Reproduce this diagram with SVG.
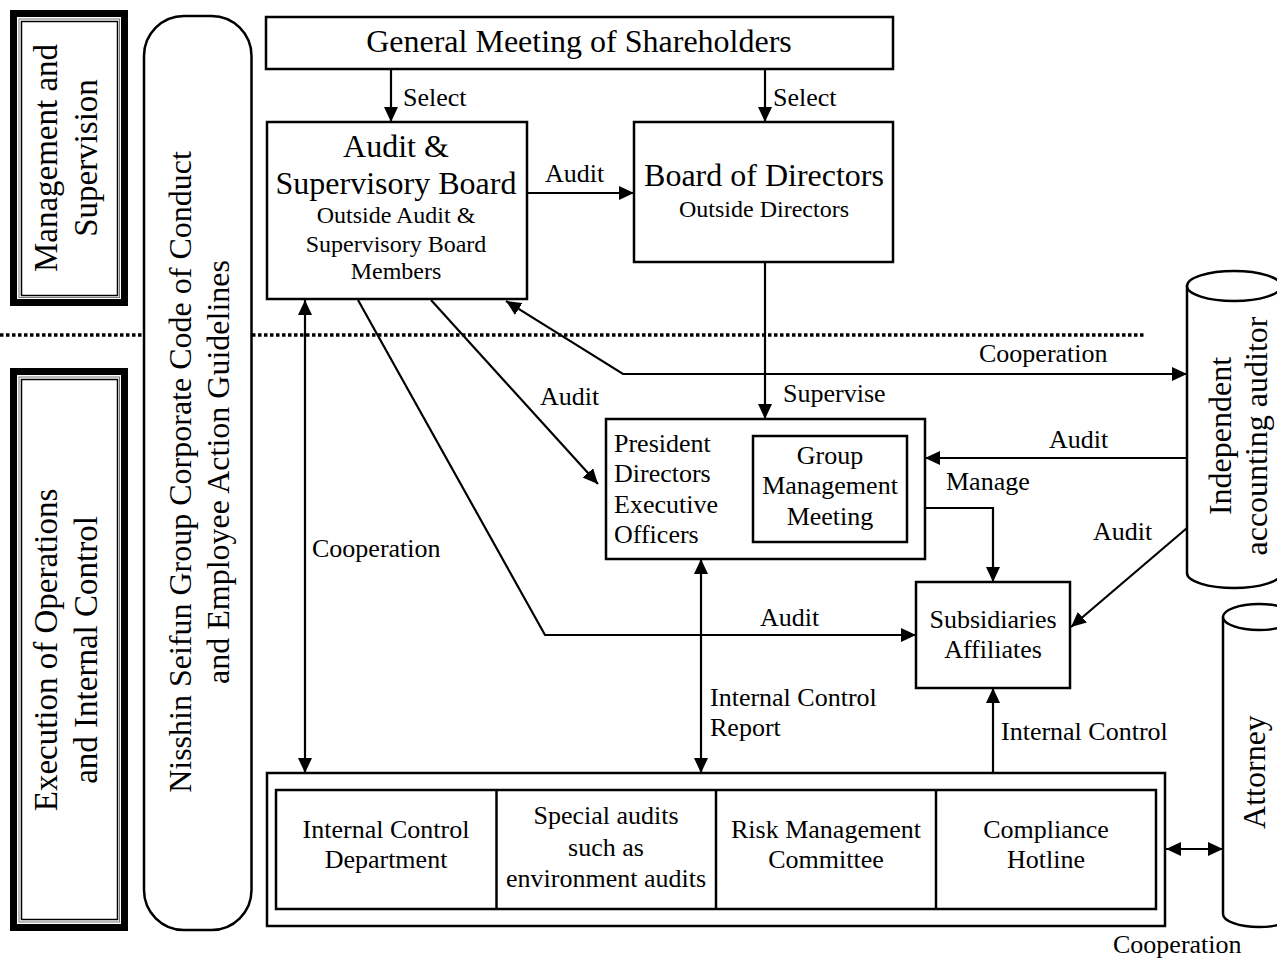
<svg xmlns="http://www.w3.org/2000/svg" width="1277" height="958" viewBox="0 0 1277 958">
<defs>
<style>
text{font-family:"Liberation Serif","Times New Roman",serif;fill:#000}
.big{font-size:32px}
.mid{font-size:26px}
.sm{font-size:24px}
.c{text-anchor:middle}
.box{fill:#fff;stroke:#000;stroke-width:2.5}
.ln{fill:none;stroke:#000;stroke-width:2.2}
.arr{marker-end:url(#ah)}
.dbl{marker-start:url(#ah);marker-end:url(#ah)}
</style>
<marker id="ah" viewBox="0 0 15 14" markerUnits="userSpaceOnUse" markerWidth="15" markerHeight="14" refX="15" refY="7" orient="auto-start-reverse">
<path d="M0,0 L15,7 L0,14 Z" fill="#000"/>
</marker>
</defs>
<rect width="1277" height="958" fill="#fff"/>

<line x1="0" y1="335" x2="1145" y2="335" stroke="#000" stroke-width="3.5" stroke-dasharray="3.5 2.5"/>

<g id="side-management">
<rect x="13.5" y="13.5" width="111" height="289" fill="#fff" stroke="#000" stroke-width="7"/>
<rect x="19" y="19" width="100.5" height="278.5" fill="none" stroke="#777" stroke-width="1"/>
<rect x="21.5" y="21.5" width="96" height="274" fill="none" stroke="#000" stroke-width="1.5"/>
<text class="c" font-size="33" transform="translate(57,158) rotate(-90)">Management and</text>
<text class="c" font-size="33" transform="translate(97,158) rotate(-90)">Supervision</text>
</g>

<g id="side-execution">
<rect x="13.5" y="371.5" width="111" height="556" fill="#fff" stroke="#000" stroke-width="7"/>
<rect x="19" y="377" width="100.5" height="545" fill="none" stroke="#777" stroke-width="1"/>
<rect x="21.5" y="379.5" width="96" height="540" fill="none" stroke="#000" stroke-width="1.5"/>
<text class="c" font-size="33" transform="translate(57,650) rotate(-90)">Execution of Operations</text>
<text class="c" font-size="33" transform="translate(97,650) rotate(-90)">and Internal Control</text>
</g>

<g id="code-of-conduct">
<rect x="144" y="16" width="107.5" height="914" rx="40" ry="40" class="box"/>
<text class="c big" transform="translate(191,472) rotate(-90)">Nisshin Seifun Group Corporate Code of Conduct</text>
<text class="c big" transform="translate(229,472) rotate(-90)">and Employee Action Guidelines</text>
</g>

<g id="connectors">
<line class="ln arr" x1="391" y1="69" x2="391" y2="122"/>
<line class="ln arr" x1="765" y1="69" x2="765" y2="122"/>
<line class="ln arr" x1="527" y1="193" x2="634" y2="193"/>
<line class="ln arr" x1="765" y1="262" x2="765" y2="419"/>
<polyline class="ln dbl" points="506,301 623,374 1187,374"/>
<line class="ln dbl" x1="305" y1="300" x2="305" y2="773"/>
<line class="ln arr" x1="431" y1="300" x2="598" y2="484"/>
<polyline class="ln arr" points="358,300 545,635 916,635"/>
<line class="ln dbl" x1="701" y1="559" x2="701" y2="773"/>
<line class="ln arr" x1="1187" y1="458" x2="925" y2="458"/>
<line class="ln arr" x1="1187" y1="528" x2="1071" y2="627"/>
<polyline class="ln arr" points="925,508 993,508 993,582"/>
<line class="ln arr" x1="993" y1="773" x2="993" y2="688"/>
<line class="ln dbl" x1="1166" y1="849" x2="1223" y2="849"/>
<text class="mid" x="403" y="106">Select</text>
<text class="mid" x="773" y="106">Select</text>
<text class="mid" x="545" y="182">Audit</text>
<text class="mid" x="979" y="362">Cooperation</text>
<text class="mid" x="783" y="402">Supervise</text>
<text class="mid" x="540" y="405">Audit</text>
<text class="mid" x="1049" y="448">Audit</text>
<text class="mid" x="946" y="490">Manage</text>
<text class="mid" x="1093" y="540">Audit</text>
<text class="mid" x="312" y="557">Cooperation</text>
<text class="mid" x="760" y="626">Audit</text>
<text class="mid" x="710" y="706">Internal Control</text>
<text class="mid" x="710" y="736">Report</text>
<text class="mid" x="1001" y="740">Internal Control</text>
<text class="mid" x="1113" y="953">Cooperation</text>
</g>

<g id="shareholders">
<rect x="266" y="17" width="627" height="52" class="box"/>
<text class="c big" x="579" y="52">General Meeting of Shareholders</text>
</g>

<g id="audit-board">
<rect x="267" y="122" width="260" height="177" class="box"/>
<text class="c big" x="396" y="157">Audit &amp;</text>
<text class="c big" x="396" y="194">Supervisory Board</text>
<text class="c sm" x="396" y="223">Outside Audit &amp;</text>
<text class="c sm" x="396" y="252">Supervisory Board</text>
<text class="c sm" x="396" y="279">Members</text>
</g>

<g id="board-of-directors">
<rect x="634" y="122" width="259" height="140" class="box"/>
<text class="c big" x="764" y="186">Board of Directors</text>
<text class="c sm" x="764" y="217">Outside Directors</text>
</g>

<g id="president">
<rect x="606" y="419" width="319" height="140" class="box"/>
<text class="mid" x="614" y="452">President</text>
<text class="mid" x="614" y="482">Directors</text>
<text class="mid" x="614" y="513">Executive</text>
<text class="mid" x="614" y="543">Officers</text>
</g>

<g id="group-management">
<rect x="753" y="436" width="154" height="106" class="box"/>
<text class="c mid" x="830" y="464">Group</text>
<text class="c mid" x="830" y="494">Management</text>
<text class="c mid" x="830" y="525">Meeting</text>
</g>

<g id="subsidiaries">
<rect x="916" y="582" width="154" height="106" class="box"/>
<text class="c mid" x="993" y="628">Subsidiaries</text>
<text class="c mid" x="993" y="658">Affiliates</text>
</g>

<g id="auditor">
<path d="M1187,286 L1187,573 A47,15 0 0 0 1281,573 L1281,286" class="box"/>
<ellipse cx="1234" cy="286" rx="47" ry="15" class="box"/>
<text class="c big" transform="translate(1231,436) rotate(-90)">Independent</text>
<text class="c big" transform="translate(1267,436) rotate(-90)">accounting auditor</text>
</g>

<g id="attorney">
<path d="M1223,617 L1223,914 A36,13 0 0 0 1295,914 L1295,617" class="box"/>
<ellipse cx="1259" cy="617" rx="36" ry="13" class="box"/>
<text class="c big" transform="translate(1265,772) rotate(-90)">Attorney</text>
</g>

<g id="internal-control-units">
<rect x="267" y="773" width="898" height="153" class="box"/>
<rect x="276" y="790" width="880" height="119" class="box"/>
<line x1="496.5" y1="790" x2="496.5" y2="909" stroke="#000" stroke-width="2.5"/>
<line x1="716" y1="790" x2="716" y2="909" stroke="#000" stroke-width="2.5"/>
<line x1="936" y1="790" x2="936" y2="909" stroke="#000" stroke-width="2.5"/>
<text class="c mid" x="386" y="838">Internal Control</text>
<text class="c mid" x="386" y="868">Department</text>
<text class="c mid" x="606" y="824">Special audits</text>
<text class="c mid" x="606" y="856">such as</text>
<text class="c mid" x="606" y="887">environment audits</text>
<text class="c mid" x="826" y="838">Risk Management</text>
<text class="c mid" x="826" y="868">Committee</text>
<text class="c mid" x="1046" y="838">Compliance</text>
<text class="c mid" x="1046" y="868">Hotline</text>
</g>
</svg>
